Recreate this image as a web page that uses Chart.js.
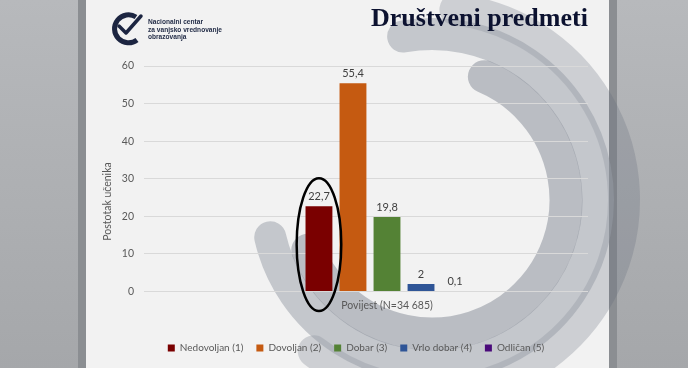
<!DOCTYPE html>
<html>
<head>
<meta charset="utf-8">
<script src="https://cdn.jsdelivr.net/npm/chart.js@4.4.0/dist/chart.umd.min.js"></script>
<style>
html, body { margin: 0; padding: 0; }
body { width: 688px; height: 368px; position: relative; overflow: hidden; background: #f2f2f2; font-family: Lato, sans-serif; }
.strip { position: absolute; top: 0; height: 368px; background: linear-gradient(#b7b9bc, #a5a7aa); }
.edge { position: absolute; top: 0; height: 368px; width: 8px; background: #8b8e92; }
#arcs, #logo { position: absolute; left: 0; top: 0; }
#wrap { position: absolute; left: 0; top: 0; width: 688px; height: 368px; clip-path: inset(0 100px 0 0); }
#title { position: absolute; left: 371px; top: 5px; font: bold 26px "Liberation Serif", serif; line-height: 26px; color: #0c1230; white-space: nowrap; }
</style>
</head>
<body>
<div class="strip" style="left:0;width:78px"></div>
<div class="edge" style="left:78px"></div>
<div class="edge" style="left:609px"></div>
<div class="strip" style="left:617px;width:71px"></div>
<svg id="arcs" width="688" height="368"></svg>
<div id="wrap"><canvas id="chart" width="688" height="368"></canvas></div>
<svg id="logo" width="260" height="60">
  <path d="M136 17 A14 14 0 1 0 137 40" fill="none" stroke="#1c2541" stroke-width="5"/>
  <path d="M119 26 L126 33 L141 16" fill="none" stroke="#1c2541" stroke-width="3.5" stroke-linecap="round" stroke-linejoin="round"/>
  <g font-family="Liberation Sans, sans-serif" font-weight="bold" font-size="6.6" fill="#1f2944">
    <text x="148" y="24">Nacionalni centar</text>
    <text x="148" y="31.5">za vanjsko vrednovanje</text>
    <text x="148" y="39">obrazovanja</text>
  </g>
</svg>
<div id="title">Društveni predmeti</div>

<script>
// podaci
const categories = ['Povijest (N=34 685)'];
const grades = ['Nedovoljan (1)', 'Dovoljan (2)', 'Dobar (3)', 'Vrlo dobar (4)', 'Odličan (5)'];
const shares = [22.7, 55.4, 19.8, 2, 0.1];
const gradeColors = ['#7a0000', '#c55a11', '#548235', '#2f5597', '#4a0a7a'];
const yTicks = [0, 10, 20, 30, 40, 50, 60];
const yTitle = 'Postotak učenika';

// background rings (decoration only)
function drawArcs(){
    const svg = document.getElementById('arcs');
    const cx = 432, cy = 200;
    const rings = [
        { r: 192, w: 32, a0: -83, a1: 128, color: 'rgba(95,104,118,0.25)' },
        { r: 166, w: 32, a0: -100, a1: 167, color: 'rgba(150,156,166,0.5)' },
        { r: 134, w: 33, a0: -67, a1: 158, color: 'rgba(140,146,156,0.55)' }
    ];
    let html = '';
    rings.forEach(g => {
        let p0 = [cx + g.r * Math.cos(g.a0 * Math.PI / 180), cy + g.r * Math.sin(g.a0 * Math.PI / 180)];
        let p1 = [cx + g.r * Math.cos(g.a1 * Math.PI / 180), cy + g.r * Math.sin(g.a1 * Math.PI / 180)];
        let large = (g.a1 - g.a0) > 180 ? 1 : 0;
        html += `<path d="M${p0[0]} ${p0[1]} A${g.r} ${g.r} 0 ${large} 1 ${p1[0]} ${p1[1]}" fill="none" stroke="${g.color}" stroke-width="${g.w}" stroke-linecap="round"/>`;
    });
    svg.innerHTML = html;
}
drawArcs();

const font = { family: 'Lato', size: 10.5 };

const valueLabels = {
    id: 'valueLabels',
    afterDatasetsDraw(chart){
        let ctx = chart.ctx;
        ctx.save();
        ctx.font = '11px Lato';
        ctx.fillStyle = '#404040';
        ctx.textAlign = 'center';
        ctx.textBaseline = 'bottom';
        chart.data.datasets.forEach((ds, i) => {
            let el = chart.getDatasetMeta(i).data[0];
            ctx.fillText(String(ds.data[0]).replace('.', ','), el.x, el.y - 4);
        });
        ctx.restore();
    }
};

const ringMark = {
    id: 'ringMark',
    afterDraw(chart){
        let el = chart.getDatasetMeta(0).data[0];
        let ctx = chart.ctx;
        ctx.save();
        ctx.beginPath();
        ctx.ellipse(el.x, (el.y + el.base) / 2 - 4, el.width * 0.83, (el.base - el.y) / 2 + 24, 0, 0, Math.PI * 2);
        ctx.lineWidth = 2.5;
        ctx.strokeStyle = '#000';
        ctx.stroke();
        ctx.restore();
    }
};

const axisTitle = {
    id: 'axisTitle',
    afterDraw(chart){
        let ctx = chart.ctx;
        let area = chart.chartArea;
        ctx.save();
        ctx.translate(area.left - 36, area.bottom - 90);
        ctx.rotate(-Math.PI / 2);
        ctx.font = '10.5px Lato';
        ctx.fillStyle = '#595959';
        ctx.textAlign = 'center';
        ctx.textBaseline = 'middle';
        ctx.fillText(yTitle, 0, 0);
        ctx.restore();
    }
};

const datasets = [];
for(let i = 0; i < grades.length; i++){
    datasets.push({
        label: grades[i],
        data: [shares[i]],
        backgroundColor: gradeColors[i],
        borderWidth: 0,
        categoryPercentage: 0.35,
        barPercentage: 0.79
    });
}

const ctx = document.getElementById('chart').getContext('2d');
const chart = new Chart(ctx, {
    type: 'bar',
    data: { labels: categories, datasets: datasets },
    options: {
        responsive: false,
        animation: false,
        layout: { padding: { left: 82, right: 58, top: 66, bottom: 5 } },
        plugins: {
            tooltip: { enabled: false },
            legend: {
                position: 'bottom',
                labels: { boxWidth: 7, boxHeight: 7, padding: 13, color: '#595959', font: { family: 'Lato', size: 10 } }
            }
        },
        scales: {
            x: {
                grid: { display: false, drawTicks: false },
                border: { display: false },
                ticks: { color: '#595959', font: font, padding: 8 },
                afterFit: s => { s.height = 38.5; }
            },
            y: {
                min: yTicks[0],
                max: yTicks[yTicks.length - 1],
                ticks: { stepSize: yTicks[1] - yTicks[0], color: '#595959', font: font, padding: 10 },
                grid: { color: '#d9d9d9', drawTicks: false },
                border: { display: false },
                afterFit: s => { s.width = 62; }
            }
        }
    },
    plugins: [valueLabels, ringMark, axisTitle]
});
</script>
</body>
</html>
